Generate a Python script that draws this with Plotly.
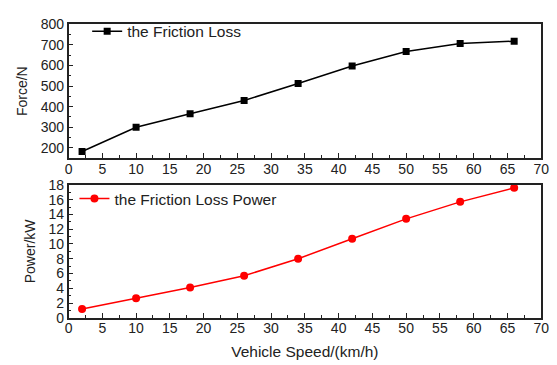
import plotly.graph_objects as go

speed = [2, 10, 18, 26, 34, 42, 50, 58, 66]
friction_force = [182, 300, 365, 430, 512, 597, 668, 706, 718]
friction_power = [1.2, 2.65, 4.1, 5.7, 8.0, 10.7, 13.4, 15.7, 17.6]

W, H = 557, 365
xl, xr = 66 / W, 549 / W
top_dom = [1 - 157 / H, 1 - 17 / H]
bot_dom = [1 - 324 / H, 1 - 185 / H]

FONT = "Liberation Sans, Arial, sans-serif"
TXT = "#222"

fig = go.Figure()
fig.add_trace(go.Scatter(
    x=speed, y=friction_force, mode="lines+markers", name="the Friction Loss",
    line=dict(color="black", width=1.5),
    marker=dict(symbol="square", size=7, color="black"),
    xaxis="x", yaxis="y", legend="legend"))
fig.add_trace(go.Scatter(
    x=speed, y=friction_power, mode="lines+markers", name="the Friction Loss Power",
    line=dict(color="#ff0000", width=1.5),
    marker=dict(symbol="circle", size=8, color="#ff0000"),
    xaxis="x2", yaxis="y2", legend="legend2"))

axis_common = dict(
    showline=True, linecolor=TXT, linewidth=1.5, mirror=True,
    ticks="inside", ticklen=5, tickwidth=1.2, tickcolor=TXT,
    showgrid=False, zeroline=False,
    tickfont=dict(family=FONT, size=14, color=TXT),
)
xminor = dict(dtick=2.5, ticks="inside", ticklen=3, tickcolor=TXT)

fig.update_layout(
    width=W, height=H,
    margin=dict(l=0, r=0, t=0, b=0),
    paper_bgcolor="white", plot_bgcolor="white",
    font=dict(family=FONT, color=TXT),
    xaxis=dict(domain=[xl, xr], anchor="y", range=[0, 70], dtick=5,
               minor=xminor, ticklabelstandoff=-3, **axis_common),
    yaxis=dict(domain=top_dom, anchor="x", range=[150, 800],
               tickvals=[200, 300, 400, 500, 600, 700, 800],
               minor=dict(tickvals=[150, 250, 350, 450, 550, 650, 750], ticks="inside", ticklen=3, tickcolor=TXT),
               title=dict(text="Force/N", font=dict(family=FONT, size=14, color=TXT), standoff=10),
               **axis_common),
    xaxis2=dict(domain=[xl, xr], anchor="y2", range=[0, 70], dtick=5,
                minor=xminor, ticklabelstandoff=-3,
                title=dict(text="Vehicle Speed/(km/h)", font=dict(family=FONT, size=15.5, color=TXT), standoff=11),
                **axis_common),
    yaxis2=dict(domain=bot_dom, anchor="x2", range=[0, 18], dtick=2,
                minor=dict(dtick=1, ticks="inside", ticklen=3, tickcolor=TXT),
                title=dict(text="Power/kW", font=dict(family=FONT, size=14, color=TXT), standoff=10),
                **axis_common),
    legend=dict(x=85 / W, y=1 - 7 / H, xanchor="left", yanchor="top",
                bgcolor="rgba(0,0,0,0)", borderwidth=0,
                font=dict(family=FONT, size=15.5, color=TXT)),
    legend2=dict(x=72 / W, y=1 - 182 / H, xanchor="left", yanchor="top",
                 bgcolor="rgba(0,0,0,0)", borderwidth=0,
                 font=dict(family=FONT, size=15.5, color=TXT)),
    showlegend=True,
)

fig.write_html("out.html")
